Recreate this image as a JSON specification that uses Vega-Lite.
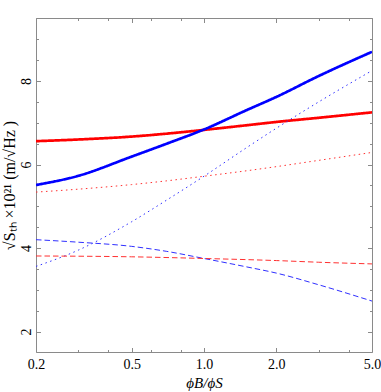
{
  "$schema": "https://vega.github.io/schema/vega-lite/v6.json",
  "width": 336,
  "height": 334,
  "autosize": {"type": "none"},
  "padding": {"left": 36, "top": 18, "right": 9, "bottom": 40},
  "config": {
    "view": {"stroke": "#8a8a8a", "strokeWidth": 1},
    "axis": {"domain": false, "grid": false, "tickColor": "#8a8a8a", "tickWidth": 1, "labelColor": "#000", "labelFont": "Liberation Serif", "labelFontSize": 14, "titleFont": "Liberation Serif", "titleFontWeight": "normal", "titleColor": "#000", "titleFontSize": 15}
  },
  "data": {"values": [
    {"s":"rs","x":0.2,"y":6.56},{"s":"rs","x":0.3,"y":6.60},{"s":"rs","x":0.5,"y":6.67},{"s":"rs","x":0.7,"y":6.74},{"s":"rs","x":1.0,"y":6.83},{"s":"rs","x":1.5,"y":6.94},{"s":"rs","x":2.0,"y":7.02},{"s":"rs","x":3.0,"y":7.12},{"s":"rs","x":5.0,"y":7.25},
    {"s":"bs","x":0.2,"y":5.51},{"s":"bs","x":0.3,"y":5.73},{"s":"bs","x":0.5,"y":6.19},{"s":"bs","x":0.7,"y":6.50},{"s":"bs","x":1.0,"y":6.84},{"s":"bs","x":1.5,"y":7.30},{"s":"bs","x":2.0,"y":7.62},{"s":"bs","x":3.0,"y":8.12},{"s":"bs","x":5.0,"y":8.70},
    {"s":"rd","x":0.2,"y":5.34},{"s":"rd","x":0.3,"y":5.41},{"s":"rd","x":0.5,"y":5.52},{"s":"rd","x":0.7,"y":5.61},{"s":"rd","x":1.0,"y":5.72},{"s":"rd","x":1.5,"y":5.85},{"s":"rd","x":2.0,"y":5.95},{"s":"rd","x":3.0,"y":6.10},{"s":"rd","x":5.0,"y":6.29},
    {"s":"bd","x":0.2,"y":3.56},{"s":"bd","x":0.3,"y":3.95},{"s":"bd","x":0.5,"y":4.63},{"s":"bd","x":0.7,"y":5.15},{"s":"bd","x":1.0,"y":5.72},{"s":"bd","x":1.5,"y":6.40},{"s":"bd","x":2.0,"y":6.87},{"s":"bd","x":3.0,"y":7.50},{"s":"bd","x":5.0,"y":8.25},
    {"s":"bdash","x":0.2,"y":4.20},{"s":"bdash","x":0.3,"y":4.14},{"s":"bdash","x":0.5,"y":4.04},{"s":"bdash","x":0.7,"y":3.92},{"s":"bdash","x":1.0,"y":3.75},{"s":"bdash","x":1.5,"y":3.55},{"s":"bdash","x":2.0,"y":3.40},{"s":"bdash","x":3.0,"y":3.12},{"s":"bdash","x":5.0,"y":2.73},
    {"s":"rdash","x":0.2,"y":3.81},{"s":"rdash","x":0.5,"y":3.79},{"s":"rdash","x":1.0,"y":3.75},{"s":"rdash","x":2.0,"y":3.70},{"s":"rdash","x":3.0,"y":3.66},{"s":"rdash","x":5.0,"y":3.62}
  ]},
  "resolve": {"axis": {"x": "independent", "y": "independent"}},
  "layer": [
    {
      "mark": {"type": "line", "interpolate": "monotone", "clip": true},
      "encoding": {
        "x": {"field": "x", "type": "quantitative", "scale": {"type": "log", "domain": [0.2, 5.0], "nice": false},
          "axis": {"orient": "bottom", "title": "ϕB/ϕS", "titleFontStyle": "italic", "titleFontSize": 15, "titlePadding": 4,
            "values": [0.2,0.5,1,2,5],
            "labelExpr": "format(datum.value, '.1f')",
            "labelFlush": false, "labelOverlap": false,
            "tickSize": -4.5, "labelPadding": 10}},
        "y": {"field": "y", "type": "quantitative", "scale": {"domain": [1.51, 9.51], "nice": false, "zero": false},
          "axis": {"orient": "left", "title": "√Sₜₕ ×10²¹ (m/√Hz )", "titlePadding": 2, "titleFontSize": 16,
            "values": [2,4,6,8],
            "labelAngle": -90, "labelAlign": "center", "labelBaseline": "bottom", "labelFlush": false, "labelOverlap": false,
            "tickSize": -4.5, "labelPadding": 7.5}},
        "detail": {"field": "s"},
        "color": {"field": "s", "type": "nominal", "legend": null,
          "scale": {"domain": ["rs","bs","rd","bd","bdash","rdash"], "range": ["#ff0000","#0000ff","#ff3030","#3030ff","#3030ff","#ff3030"]}},
        "strokeDash": {"field": "s", "type": "nominal", "legend": null,
          "scale": {"domain": ["rs","bs","rd","bd","bdash","rdash"], "range": [[1,0],[1,0],[1.5,3.5],[1.5,3.5],[5.5,3],[5.5,3]]}},
        "strokeWidth": {"field": "s", "type": "nominal", "legend": null,
          "scale": {"type": "ordinal", "domain": ["rs","bs","rd","bd","bdash","rdash"], "range": [2.7,2.7,1,1,1,1]}}
      }
    },
    {
      "mark": {"type": "point", "opacity": 0},
      "encoding": {
        "x": {"field": "x", "type": "quantitative",
          "axis": {"orient": "top", "title": null, "labels": false, "values": [0.2,0.5,1,2,5], "tickSize": -4.5}},
        "y": {"field": "y", "type": "quantitative",
          "axis": {"orient": "right", "title": null, "labels": false, "values": [2,4,6,8], "tickSize": -4.5}}
      }
    },
    {
      "mark": {"type": "point", "opacity": 0},
      "encoding": {
        "x": {"field": "x", "type": "quantitative",
          "axis": {"orient": "bottom", "title": null, "labels": false, "values": [0.3,0.4,0.6,0.8,3,4], "tickSize": -2.5}},
        "y": {"field": "y", "type": "quantitative",
          "axis": {"orient": "left", "title": null, "labels": false, "values": [2.5,3,3.5,4.5,5,5.5,6.5,7,7.5,8.5,9,9.5], "tickSize": -2.5}}
      }
    },
    {
      "mark": {"type": "point", "opacity": 0},
      "encoding": {
        "x": {"field": "x", "type": "quantitative",
          "axis": {"orient": "top", "title": null, "labels": false, "values": [0.3,0.4,0.6,0.8,3,4], "tickSize": -2.5}},
        "y": {"field": "y", "type": "quantitative",
          "axis": {"orient": "right", "title": null, "labels": false, "values": [2.5,3,3.5,4.5,5,5.5,6.5,7,7.5,8.5,9,9.5], "tickSize": -2.5}}
      }
    }
  ]
}
